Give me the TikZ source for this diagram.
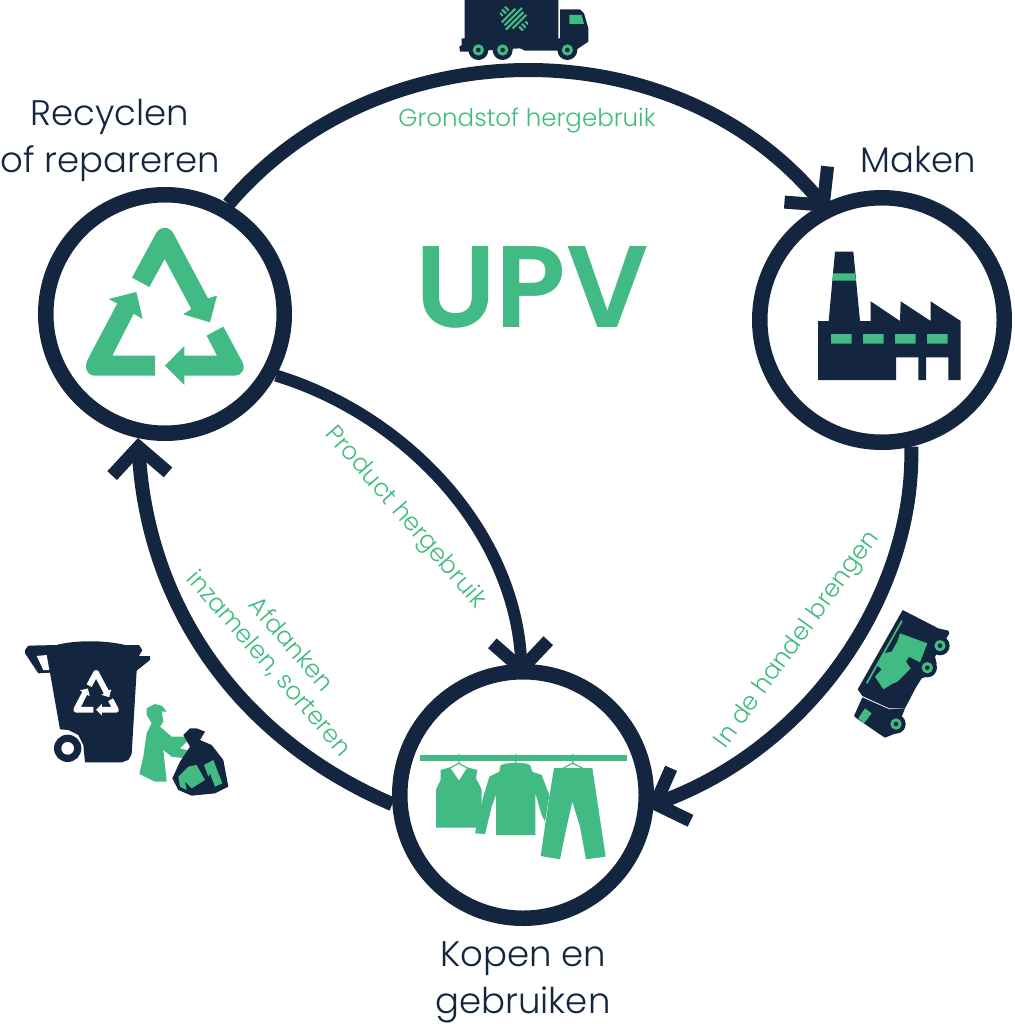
\documentclass[tikz,border=0pt]{standalone}
\usepackage{fontspec}
\setmainfont{Poppins Light}
\usetikzlibrary{arrows.meta}
\definecolor{navy}{HTML}{14263F}
\definecolor{grn}{HTML}{41BA83}
\tikzset{
 ring/.style={circle,draw=navy,line width=15.5pt,inner sep=0pt,fill=white},
 link/.style={draw=navy,line width=14pt,-{Straight Barb[length=27pt,width=56pt,line width=13pt]}},
 title/.style={text=navy,font=\fontsize{35.5}{47}\selectfont,align=center,inner sep=0pt},
 lab/.style={text=grn,font=\fontsize{24.5}{29}\selectfont,align=center,inner sep=0pt},
 zoomed/.style={x=0.33333pt,y=-0.33333pt},
}
\newcommand{\recyc}[1]{%
 \fill[#1] (186,188)--(258,55) .. controls (270,33) and (298,33) .. (310,55)--(414,250)--(441,242)--(420,322)--(340,298)--(364,282)--(284,132)--(238,216)--cycle;
 \fill[#1] (199,231)--(218,312)--(191,296)--(127,422)--(255,422)--(255,482)--(75,482) .. controls (50,482) and (40,455) .. (55,430)--(142,265)--(116,252)--cycle;
 \fill[#1] (460,335)--(515,437) .. controls (530,460) and (515,482) .. (495,482)--(343,482)--(343,510)--(285,452)--(343,393)--(343,422)--(441,422)--(410,362)--cycle;
}
\begin{document}
\begin{tikzpicture}[x=1pt,y=1pt]
\useasboundingbox (0,0) rectangle (1014,-1024);
% circles
\node[ring,minimum size=238.5pt] (rec) at (165,-314) {};
\node[ring,minimum size=244.5pt] (mak) at (882,-320) {};
\node[ring,minimum size=246.5pt] (kop) at (523,-795) {};
% connector ends
\coordinate (t1) at (829,-212);
\coordinate (t2) at (647,-807);
\coordinate (t3) at (138,-438);
\coordinate (t4) at (522,-678);
% connectors
\draw[link] (rec.60) .. controls (380,-26) and (675,-26) .. (t1);
\draw[link] (mak.-77) .. controls (915,-590) and (815,-745) .. (t2);
\draw[link] (kop.184) .. controls (242,-740) and (148,-610) .. (t3);
\draw[link,line width=12pt] (rec.-29) .. controls (405,-415) and (515,-530) .. (t4);
% labels
\node[title] (n1) at (110,-140) {Recyclen\\of repareren};
\node[title] (n2) at (918,-160) {Maken};
\node[title] (n3) at (523,-982) {Kopen en\\gebruiken};
\node[text=grn,font=\fontsize{116}{116}\selectfont\fontspec{Poppins SemiBold},inner sep=0pt] (upv) at (532,-287) {UPV};
\node[lab] (l1) at (527,-121) {Grondstof hergebruik};
\node[lab,rotate=-49] (l2) at (405,-518) {Product hergebruik};
\node[lab,rotate=54] (l3) at (798,-640) {In de handel brengen};
\node[lab,rotate=-49] (l4) at (280,-654) {Afdanken\\inzamelen, sorteren};
% recycle icon
\begin{scope}[shift={(70,-215)},zoomed]
\recyc{grn}
\end{scope}
% factory
\begin{scope}[shift={(800,-240)},zoomed]
\fill[navy] (105,35)--(160,35)--(180,243)--(212,243)--(212,184)--(300,243)--(302,184)--(392,243)--(392,184)--(482,243)--(482,420)--(445,420)--(445,352)--(378,352)--(378,420)--(355,420)--(355,352)--(288,352)--(288,420)--(54,420)--(54,243)--(86,243)--cycle;
\fill[grn] (100,100)--(165,100)--(168,122)--(97,122)--cycle;
\fill[grn] (93,282) rectangle (155,311) (189,282) rectangle (251,311) (285,282) rectangle (347,311) (381,282) rectangle (443,311);
\end{scope}
% clothes
\begin{scope}[shift={(410,-740)},zoomed]
\fill[grn] (30,45) rectangle (650,62);
\draw[grn,line width=1.2pt] (147,42)--(147,70) (317,42)--(317,70) (488,42)--(488,70) (120,84)--(147,70)--(172,84) (460,84)--(488,70)--(518,84);
\fill[grn] (92,90)--(120,82)--(147,122)--(172,82)--(202,90)--(198,115)--(215,148)--(215,263)--(78,263)--(78,148)--(92,120)--cycle;
\fill[grn] (268,95)--(272,75).. controls (300,66) and (340,66) ..(360,75)--(367,95)--(395,105)--(418,165)--(405,245)--(395,225)--(376,160)--(376,285)--(258,285)--(258,165)--(245,200)--(225,282)--(195,280)--(220,170)--(238,110)--cycle;
\fill[grn] (432,84)--(547,84)--(587,350)--(528,358)--(510,260)--(487,185)--(470,260)--(450,358)--(392,348)--(418,170)--cycle;
\end{scope}
% top truck
\begin{scope}[shift={(440,0)},zoomed]
\fill[navy] (74,0)--(355,0)--(355,115)--(360,115)--(360,28)--(420,28)--(432,40)--(445,85)--(445,125)--(430,135)--(405,152)--(255,152)--(240,145)--(80,155)--(60,155)--(58,140)--(65,135)--(65,115)--(74,115)--cycle;
\foreach \wx in {115,188,382}{
 \fill[navy] (\wx,150) circle[radius=30];
 \fill[grn] (\wx,150) circle[radius=17];
 \fill[navy] (\wx,150) circle[radius=7];
}
\fill[grn] (388,45)--(425,45)--(432,72)--(388,72)--cycle;
\begin{scope}
\clip (222,56) circle[radius=45];
\begin{scope}[shift={(222,56)},rotate=45]
\draw[grn,line width=2.2pt] (-34,-18)--(24,-18) (-34,-6)--(40,-6) (-40,6)--(34,6) (-24,18)--(34,18);
\draw[grn,line width=2.2pt] (-18,-45)--(-18,-30) (-6,-45)--(-6,-28) (6,-45)--(6,-28) (-6,28)--(-6,45) (6,28)--(6,45) (18,30)--(18,45);
\end{scope}
\end{scope}
\end{scope}
% side truck
\begin{scope}[shift={(840,-600)},zoomed]
\fill[navy] (188,30)--(295,85)--(325,92)--(328,100)--(285,170)--(290,190)--(275,225)--(245,235)--(228,262)--(195,325)--(148,325)--(67,288)--(53,268)--cycle;
\fill[navy] (67,292)--(148,328)--(195,325)--(185,350)--(195,375)--(180,395)--(135,413)--(115,400)--(50,355)--(42,348)--cycle;
\foreach \wx/\wy in {300/137,262/203,168/372}{
 \fill[navy] (\wx,\wy) circle[radius=29];
 \fill[grn] (\wx,\wy) circle[radius=17];
 \fill[navy] (\wx,\wy) circle[radius=7];
}
\fill[grn] (75,325)--(95,340)--(72,370)--(55,355)--cycle;
\draw[grn,line width=1.7pt] (186,62)--(80,250);
\fill[grn] (180,100)--(262,130)--(240,187)--(207,170)--(198,185)--(212,205)--(172,245)--(160,250)--(130,268)--(105,230)--(125,208)--(110,195)--(130,160)--(155,155)--(172,125)--cycle;
\end{scope}
% bin, worker, bag
\begin{scope}[shift={(15,-630)},zoomed]
\fill[navy] (30,60)--(40,47)--(125,45).. controls (180,30) and (270,30) ..(330,45)--(372,45)--(382,60)--(372,78)--(405,78)--(405,90)--(365,122)--(350,372)--(340,390)--(320,397)--(210,397)--(205,345)--(190,315)--(160,300)--(135,298)--(105,128)--(70,130)--(30,70)--cycle;
\fill[white] (65,78)--(95,75)--(103,120)--(85,120)--cycle;
\fill[navy] (158,355) circle[radius=41];
\fill[white] (158,355) circle[radius=19];
\begin{scope}[shift={(175,120)},x=0.0964pt,y=-0.0964pt,shift={(-48,-40)}]
\recyc{white}
\end{scope}
\fill[grn] (395,235)--(420,222)--(442,228)--(455,245)--(440,245)--(445,275)--(435,290)--(470,320)--(515,320)--(520,330)--(495,355)--(555,370)--(555,378)--(510,385)--(470,380)--(445,360)--(455,455)--(420,455)--(373,432)--(385,380)--(395,310)--(410,280)--(395,255)--cycle;
\fill[navy] (505,315)--(525,295)--(545,295)--(570,305)--(555,330)--(590,345)--(625,390)--(640,470)--(600,490)--(530,497)--(490,480)--(472,445)--(495,395)--(525,350)--cycle;
\fill[grn] (490,440)--(520,410)--(545,405)--(570,450)--(530,475)--(510,455)--(515,480)--(495,470)--cycle;
\fill[grn] (567,405)--(595,390)--(622,460)--(600,470)--(585,430)--(580,440)--cycle;
\end{scope}
\end{tikzpicture}
\end{document}
